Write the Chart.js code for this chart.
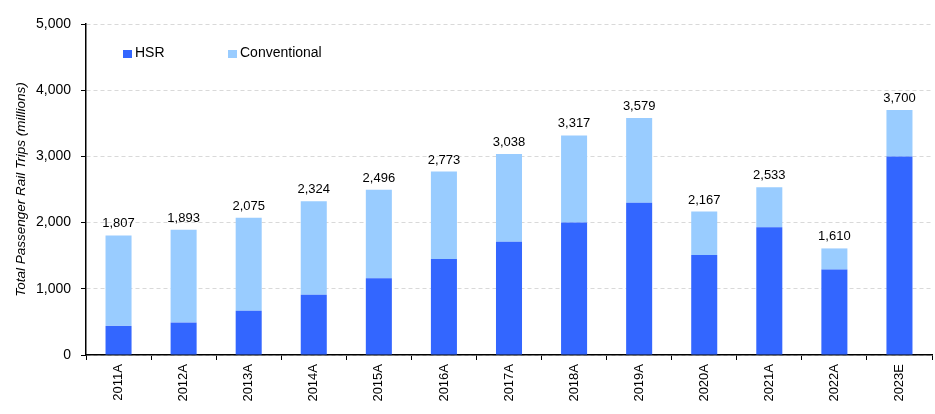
<!DOCTYPE html>
<html>
<head>
<meta charset="utf-8">
<script src="https://cdn.jsdelivr.net/npm/chart.js@4"></script>
<style>
  body { margin: 0; background: #fff; }
  #wrap { width: 935px; height: 414px; }
</style>
</head>
<body>
<div id="wrap"><canvas id="grafico"></canvas></div>
<script>
const years = ['2011A', '2012A', '2013A', '2014A', '2015A', '2016A', '2017A', '2018A', '2019A', '2020A', '2021A', '2022A', '2023E'];
const totals = [1807, 1893, 2075, 2324, 2496, 2773, 3038, 3317, 3579, 2167, 2533, 1610, 3700];
const hsr = [440, 490, 670, 910, 1160, 1450, 1710, 2000, 2300, 1510, 1930, 1290, 3000];
const conventional = totals.map((t, i) => t - hsr[i]);
const yTicks = [0, 1000, 2000, 3000, 4000, 5000];

const FONT = 'Liberation Sans, Arial, sans-serif';

// etiquetas de total y leyenda dibujadas encima
const extras = {
  id: 'extras',
  afterDatasetsDraw(chart) {
    const ctx = chart.ctx;
    const meta = chart.getDatasetMeta(1);
    ctx.save();
    ctx.font = '13px ' + FONT;
    ctx.fillStyle = '#000';
    ctx.textAlign = 'center';
    ctx.textBaseline = 'bottom';
    meta.data.forEach((bar, i) => {
      ctx.fillText(totals[i].toLocaleString('en-US'), bar.x, bar.y - 5);
    });

    // leyenda
    const items = [
      { text: 'HSR', color: '#3366FF', x: 123 },
      { text: 'Conventional', color: '#99CCFF', x: 228 }
    ];
    ctx.textAlign = 'left';
    ctx.textBaseline = 'middle';
    ctx.font = '14px ' + FONT;
    items.forEach(it => {
      ctx.fillStyle = it.color;
      ctx.fillRect(it.x, 50, 9, 8);
      ctx.fillStyle = '#000';
      ctx.fillText(it.text, it.x + 12, 53);
    });
    ctx.restore();
  }
};

new Chart(document.getElementById('grafico'), {
  type: 'bar',
  data: {
    labels: years,
    datasets: [
      { label: 'HSR', data: hsr, backgroundColor: '#3366FF' },
      { label: 'Conventional', data: conventional, backgroundColor: '#99CCFF' }
    ]
  },
  options: {
    responsive: true,
    maintainAspectRatio: false,
    animation: false,
    categoryPercentage: 0.8,
    barPercentage: 0.5,
    layout: { padding: { top: 24, right: 3, left: 0, bottom: 0 } },
    plugins: {
      legend: { display: false },
      tooltip: { enabled: false }
    },
    scales: {
      x: {
        stacked: true,
        afterFit: s => { s.height = 59; },
        grid: {
          offset: true,
          drawOnChartArea: false,
          tickLength: 5,
          tickColor: '#000'
        },
        border: { color: '#000', width: 1.5 },
        ticks: {
          color: '#000',
          font: { family: FONT, size: 13 },
          maxRotation: 90,
          minRotation: 90,
          padding: 4
        }
      },
      y: {
        stacked: true,
        min: 0,
        max: 5000,
        afterFit: s => { s.width = 86; },
        afterBuildTicks: s => { s.ticks = yTicks.map(v => ({ value: v })); },
        grid: {
          color: '#d9d9d9',
          tickLength: 5,
          tickColor: '#000',
          tickBorderDash: []
        },
        border: { color: '#000', width: 1.5, dash: [4, 3] },
        ticks: {
          color: '#000',
          font: { family: FONT, size: 14 },
          padding: 10,
          callback: v => v.toLocaleString('en-US')
        },
        title: {
          display: true,
          text: 'Total Passenger Rail Trips (millions)',
          color: '#000',
          font: { family: FONT, size: 13.5, style: 'italic' },
          padding: { top: 13, bottom: 4 }
        }
      }
    }
  },
  plugins: [extras]
});
</script>
</body>
</html>
